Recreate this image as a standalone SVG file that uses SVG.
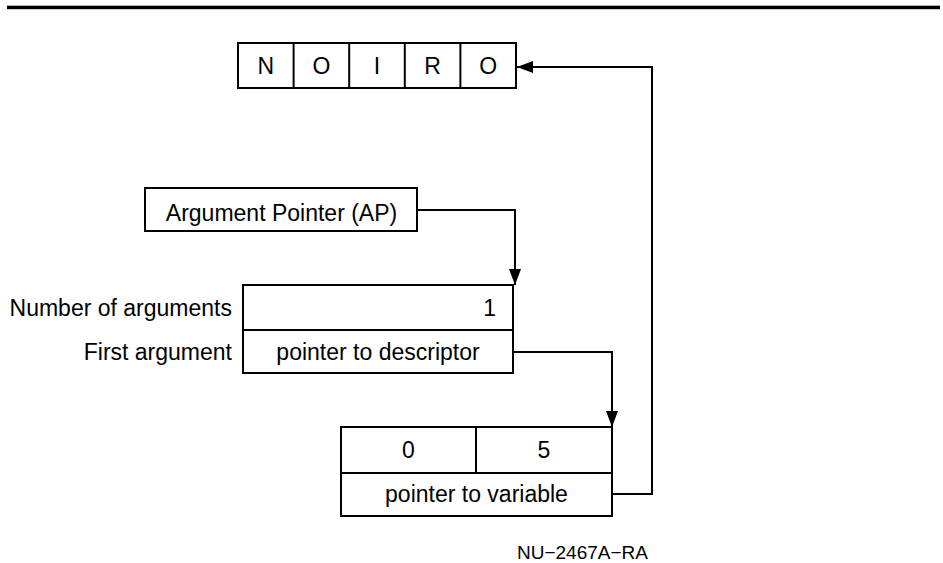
<svg xmlns="http://www.w3.org/2000/svg" width="943" height="563" viewBox="0 0 943 563">
  <style>
    .box { fill: #fff; stroke: #000; stroke-width: 2; }
    .div { stroke: #000; stroke-width: 2; fill: none; }
    .wire { stroke: #000; stroke-width: 2; fill: none; }
    text { font-family: "Liberation Sans", Arial, sans-serif; font-size: 23px; fill: #000; }
    .c { text-anchor: middle; }
    .r { text-anchor: end; }
    .tag { font-size: 19px; }
  </style>
  <defs>
    <marker id="arrow" viewBox="0 0 16 12" refX="16" refY="6" markerWidth="16" markerHeight="12" markerUnits="userSpaceOnUse" orient="auto">
      <path d="M0,0 L16,6 L0,12 Z" fill="#000"/>
    </marker>
  </defs>

  <!-- header rule -->
  <rect x="7" y="5.7" width="933" height="3.5" fill="#000"/>

  <!-- character string in memory -->
  <g id="string">
    <rect class="box" x="238" y="43" width="278" height="45"/>
    <line class="div" x1="293.6" y1="43" x2="293.6" y2="88"/>
    <line class="div" x1="349.2" y1="43" x2="349.2" y2="88"/>
    <line class="div" x1="404.8" y1="43" x2="404.8" y2="88"/>
    <line class="div" x1="460.4" y1="43" x2="460.4" y2="88"/>
    <text class="c" x="265.8" y="74">N</text>
    <text class="c" x="321.4" y="74">O</text>
    <text class="c" x="377" y="74">I</text>
    <text class="c" x="432.6" y="74">R</text>
    <text class="c" x="488.2" y="74">O</text>
  </g>

  <!-- argument pointer register -->
  <g id="ap">
    <rect class="box" x="145" y="188" width="272" height="43"/>
    <text class="c" x="281.5" y="221">Argument Pointer (AP)</text>
  </g>

  <!-- argument list -->
  <g id="arglist">
    <rect class="box" x="243" y="285" width="270" height="88"/>
    <line class="div" x1="243" y1="330" x2="513" y2="330"/>
    <text class="r" x="496" y="316">1</text>
    <text class="c" x="378" y="360">pointer to descriptor</text>
    <text class="r" x="232" y="316">Number of arguments</text>
    <text class="r" x="232" y="360">First argument</text>
  </g>

  <!-- string descriptor -->
  <g id="descriptor">
    <rect class="box" x="341" y="427" width="271" height="89"/>
    <line class="div" x1="341" y1="473" x2="612" y2="473"/>
    <line class="div" x1="476" y1="427" x2="476" y2="473"/>
    <text class="c" x="408.5" y="458">0</text>
    <text class="c" x="544" y="458">5</text>
    <text class="c" x="476.5" y="502">pointer to variable</text>
  </g>

  <!-- pointers -->
  <g id="connectors">
    <polyline class="wire" points="417,210 515,210 515,285" marker-end="url(#arrow)"/>
    <polyline class="wire" points="513,352 612,352 612,427" marker-end="url(#arrow)"/>
    <polyline class="wire" points="612,494 652,494 652,67 517,67" marker-end="url(#arrow)"/>
  </g>

  <text class="tag" x="517" y="559">NU−2467A−RA</text>
</svg>
